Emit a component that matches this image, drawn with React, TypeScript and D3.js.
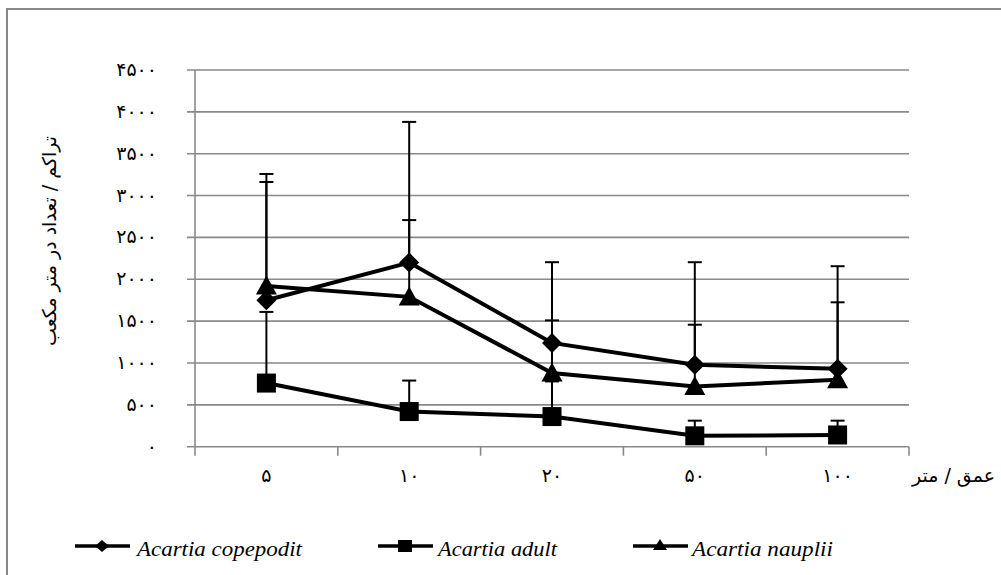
import React from "react";
import * as d3 from "d3";

const categories = ["۵", "۱۰", "۲۰", "۵۰", "۱۰۰"];
const yTicks = [0, 500, 1000, 1500, 2000, 2500, 3000, 3500, 4000, 4500];
const toPersian = (n: number) => String(n).replace(/\d/g, (d) => "۰۱۲۳۴۵۶۷۸۹"[+d]);

const copepodit = [1750, 2200, 1240, 980, 930];
const copepoditErr = [1508, 1680, 964, 1224, 1226];
const adult = [760, 420, 360, 130, 140];
const adultErr = [850, 370, 420, 181, 171];
const nauplii = [1920, 1790, 880, 720, 800];
const naupliiErr = [1242, 917, 629, 737, 925];

const seriesNames = ["Acartia copepodit", "Acartia adult", "Acartia nauplii"];
const yTitle = "تراکم / تعداد در متر مکعب";
const xTitle = "عمق / متر";

const W = 1001;
const H = 575;
const plot = { left: 195, right: 909, top: 70, bottom: 446.7 };
const grid = "#898989";

function Marker({ type, x, y }: { type: string; x: number; y: number }) {
  if (type === "diamond") {
    const s = 10;
    return <path d={`M${x},${y - s}L${x + s},${y}L${x},${y + s}L${x - s},${y}Z`} fill="#000" />;
  }
  if (type === "square") {
    const s = 9.5;
    return <rect x={x - s} y={y - s} width={2 * s} height={2 * s} fill="#000" />;
  }
  const w = 10.5, h = 19;
  return <path d={`M${x},${y - h * 0.55}L${x + w},${y + h * 0.45}L${x - w},${y + h * 0.45}Z`} fill="#000" />;
}

export default function App() {
  const x = d3.scaleBand<string>().domain(categories).range([plot.left, plot.right]);
  const y = d3.scaleLinear().domain([0, 4500]).range([plot.bottom, plot.top]);
  const cx = (c: string) => (x(c) as number) + x.bandwidth() / 2;

  const series = [
    { name: seriesNames[0], values: copepodit, err: copepoditErr, marker: "diamond" },
    { name: seriesNames[1], values: adult, err: adultErr, marker: "square" },
    { name: seriesNames[2], values: nauplii, err: naupliiErr, marker: "triangle" },
  ];

  const line = d3
    .line<number>()
    .x((_, i) => cx(categories[i]))
    .y((v) => y(v));

  const tickEdges = d3.range(categories.length + 1).map((i) => plot.left + i * x.bandwidth());
  const arabicFont = "'DejaVu Sans', sans-serif";

  const legendItems = [
    { x: 75, textX: 137, len: 165 },
    { x: 378, textX: 438, len: 119 },
    { x: 633, textX: 692, len: 141 },
  ];

  return (
    <svg
      width={W}
      height={H}
      style={{ position: "absolute", left: 0, top: 0, background: "#fff" }}
      xmlns="http://www.w3.org/2000/svg"
    >
      <rect x={0} y={0} width={W} height={H} fill="#fff" />
      <rect x={7} y={9} width={W + 10} height={H + 10} fill="none" stroke={grid} strokeWidth={2} />

      {/* gridlines */}
      {yTicks.map((t) => (
        <line key={"g" + t} x1={plot.left - 8} x2={plot.right} y1={y(t)} y2={y(t)} stroke={grid} strokeWidth={1.6} />
      ))}
      {/* y axis */}
      <line x1={plot.left} x2={plot.left} y1={plot.top} y2={plot.bottom} stroke={grid} strokeWidth={1.6} />
      {/* x axis ticks */}
      {tickEdges.map((e, i) => (
        <line key={"xt" + i} x1={e} x2={e} y1={plot.bottom} y2={plot.bottom + 9} stroke={grid} strokeWidth={1.6} />
      ))}

      {/* y tick labels */}
      {yTicks.map((t) => (
        <text
          key={"yl" + t}
          x={157}
          y={y(t) + 6}
          textAnchor="end"
          fontFamily={arabicFont}
          fontSize={19}
          fill="#000"
        >
          {toPersian(t)}
        </text>
      ))}

      {/* x tick labels */}
      {categories.map((c) => (
        <text key={"xl" + c} x={cx(c)} y={482} textAnchor="middle" fontFamily={arabicFont} fontSize={19} fill="#000">
          {c}
        </text>
      ))}

      {/* axis titles */}
      <text x={995} y={482} textAnchor="end" fontFamily={arabicFont} fontSize={19} fill="#000">
        {xTitle}
      </text>
      <text
        transform={`translate(56,241) rotate(-90)`}
        textAnchor="middle"
        fontFamily={arabicFont}
        fontSize={19}
        fill="#000"
      >
        {yTitle}
      </text>

      {/* error bars */}
      {series.map((s) =>
        s.values.map((v, i) => {
          const xc = cx(categories[i]);
          const top = y(v + s.err[i]);
          return (
            <g key={s.name + "e" + i}>
              <line x1={xc} x2={xc} y1={y(v)} y2={top} stroke="#000" strokeWidth={2} />
              <line x1={xc - 7} x2={xc + 7} y1={top} y2={top} stroke="#000" strokeWidth={2} />
            </g>
          );
        })
      )}

      {/* lines */}
      {series.map((s) => (
        <path key={s.name + "l"} d={line(s.values) || ""} fill="none" stroke="#000" strokeWidth={4} />
      ))}

      {/* markers */}
      {series.map((s) =>
        s.values.map((v, i) => <Marker key={s.name + "m" + i} type={s.marker} x={cx(categories[i])} y={y(v)} />)
      )}

      {/* legend */}
      {series.map((s, i) => {
        const li = legendItems[i];
        const ly = 546;
        const mx = li.x + 27;
        return (
          <g key={s.name + "leg"}>
            <line x1={li.x} x2={li.x + 55} y1={ly} y2={ly} stroke="#000" strokeWidth={3.5} />
            {s.marker === "diamond" && (
              <path d={`M${mx},${ly - 6}L${mx + 7},${ly}L${mx},${ly + 6}L${mx - 7},${ly}Z`} fill="#000" />
            )}
            {s.marker === "square" && <rect x={mx - 7} y={ly - 6} width={14} height={12} fill="#000" />}
            {s.marker === "triangle" && (
              <path d={`M${mx},${ly - 7}L${mx + 7},${ly + 4}L${mx - 7},${ly + 4}Z`} fill="#000" />
            )}
            <text
              x={li.textX}
              y={556}
              style={{ fontFamily: "'Liberation Serif', 'DejaVu Serif', serif", fontStyle: "italic" }}
              fontSize={22}
              fill="#000"
              textLength={li.len}
              lengthAdjust="spacingAndGlyphs"
            >
              {s.name}
            </text>
          </g>
        );
      })}
    </svg>
  );
}
